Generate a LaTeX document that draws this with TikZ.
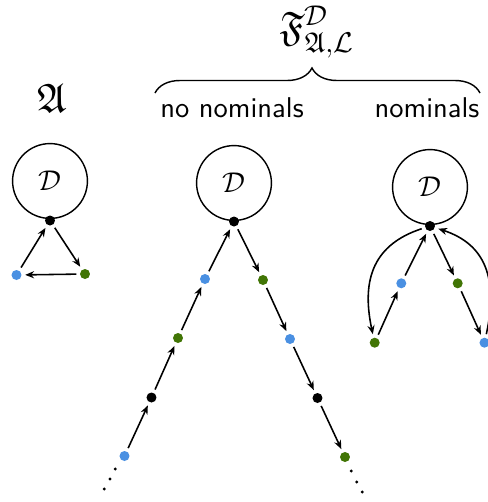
\documentclass[tikz,border=0pt]{standalone}
\usepackage{amssymb}
\usetikzlibrary{arrows.meta,decorations.pathreplacing}
\definecolor{dblue}{HTML}{4A90E2}
\definecolor{dgreen}{HTML}{417505}
\begin{document}
\begin{tikzpicture}[x=0.35pt,y=-0.35pt,
  pdot/.style={circle,inner sep=0pt,minimum size=3.5pt,outer sep=1.3pt},
  kdot/.style={pdot,fill=black},
  bdot/.style={pdot,fill=dblue},
  gdot/.style={pdot,fill=dgreen},
  edot/.style={circle,fill=black,inner sep=0pt,minimum size=1.1pt},
  world/.style={circle,draw,line width=0.5pt,minimum size=26.2pt,inner sep=0pt},
  arr/.style={-{Stealth[length=3.1pt,width=2.5pt]},line width=0.55pt},
  lab/.style={font=\sffamily}]
\useasboundingbox (0,0) rectangle (487,502);

% titles
\node (A) at (52,98) {\Large $\mathfrak{A}$};
\node (F) at (317,32) {\Large $\mathfrak{F}^{\mathcal{D}}_{\mathfrak{A},\mathcal{L}}$};
\draw[decorate,decoration={brace,amplitude=8.75pt,aspect=0.483},line width=0.5pt] (155,93) -- (480,93);
\node[lab] (nn) at (232,108) {no nominals};
\node[lab] (n) at (427,108) {nominals};

% left structure
\node[world] (cL) at (50,181) {$\mathcal{D}$};
\node[kdot] (kL) at (50,220.5) {};
\node[bdot] (bL) at (16.5,275) {};
\node[gdot] (gL) at (85,274) {};
\draw[arr] (kL) -- (gL);
\draw[arr] (gL) -- (bL);
\draw[arr] (bL) -- (kL);

% middle structure
\node[world] (cM) at (234,183) {$\mathcal{D}$};
\node[kdot] (kM) at (234,221.5) {};
\node[bdot] (m1) at (205,279) {};
\node[gdot] (m2) at (178,338) {};
\node[kdot] (m3) at (151.5,397.5) {};
\node[bdot] (m4) at (124.5,456) {};
\node[edot] (me1) at (115.3,469) {};
\node[edot] (me2) at (110,479) {};
\node[edot] (me3) at (104.3,489) {};
\draw[arr] (m1) -- (kM);
\draw[arr] (m2) -- (m1);
\draw[arr] (m3) -- (m2);
\draw[arr] (m4) -- (m3);
\node[gdot] (r1) at (263,280) {};
\node[bdot] (r2) at (290,339) {};
\node[kdot] (r3) at (317.5,398) {};
\node[gdot] (r4) at (345,457) {};
\node[edot] (re1) at (351.3,471) {};
\node[edot] (re2) at (356.7,482) {};
\node[edot] (re3) at (362.3,492) {};
\draw[arr] (kM) -- (r1);
\draw[arr] (r1) -- (r2);
\draw[arr] (r2) -- (r3);
\draw[arr] (r3) -- (r4);

% right structure
\node[world] (cR) at (430,187) {$\mathcal{D}$};
\node[kdot] (kR) at (430,226) {};
\node[bdot] (n1) at (401.3,283.3) {};
\node[gdot] (n2) at (374.7,342.7) {};
\node[gdot] (p1) at (457.7,283.3) {};
\node[bdot] (p2) at (484.5,342.7) {};
\draw[arr] (n1) -- (kR);
\draw[arr] (n2) -- (n1);
\draw[arr] (kR) -- (p1);
\draw[arr] (p1) -- (p2);
\draw[arr] (kR) .. controls +(-55,18) and +(-14,-65) .. (n2);
\draw[arr] (p2) .. controls +(14,-65) and +(55,18) .. (kR);
\end{tikzpicture}
\end{document}
